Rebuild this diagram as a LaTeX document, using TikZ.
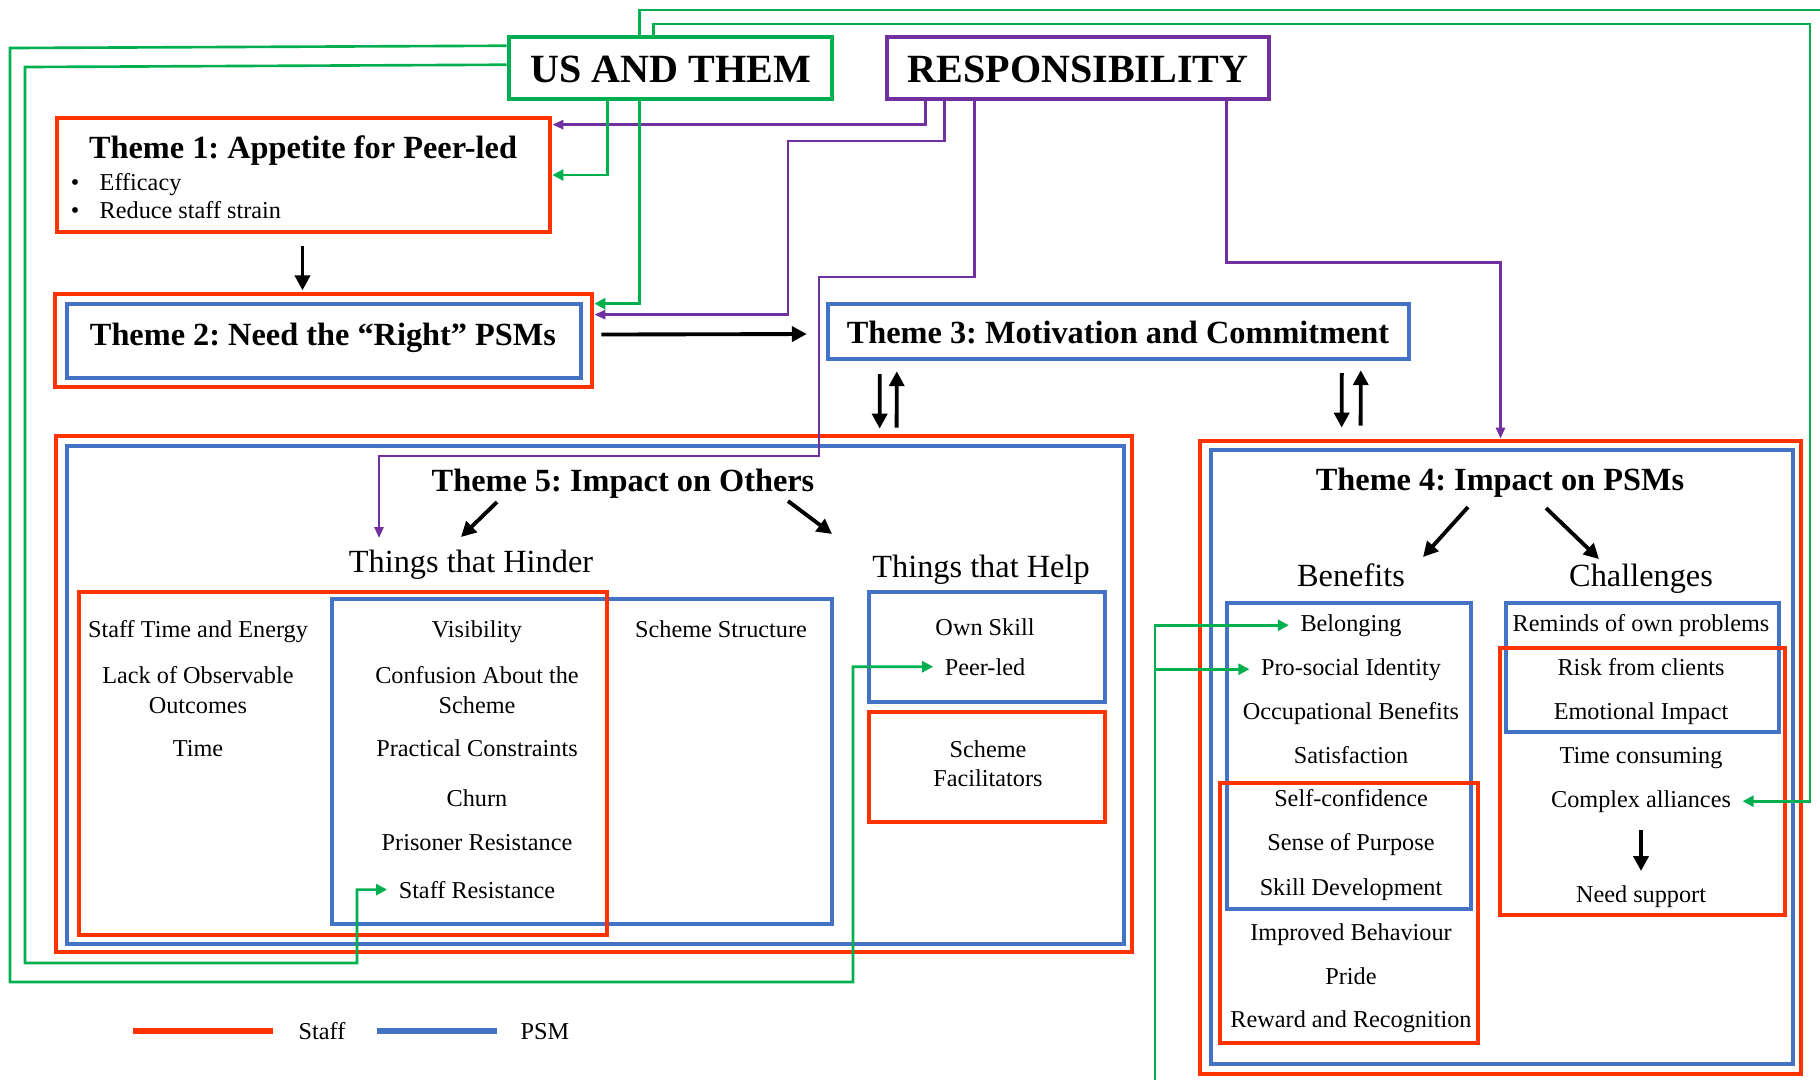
\documentclass[tikz,border=0pt]{standalone}
\usepackage{fontspec}
\setmainfont{Liberation Serif}
\usetikzlibrary{calc,arrows.meta}
\definecolor{cred}{HTML}{FF3300}
\definecolor{cblue}{HTML}{4472C4}
\definecolor{cgreen}{HTML}{00B050}
\definecolor{cpurple}{HTML}{7030A0}
\frenchspacing
\newcommand\mkbox[6]{\node[#2,minimum width={(#5-(#3))*0.1mm},minimum height={(#6-(#4))*0.1mm}] (#1) at ({(#3+#5)/2},{(#4+#6)/2}) {};}
\begin{document}
\begin{tikzpicture}[x=0.1mm,y=-0.1mm,
 rbox/.style={draw=cred,line width=1.35pt,inner sep=0pt},
 bbox/.style={draw=cblue,line width=1.25pt,inner sep=0pt},
 gbox/.style={draw=cgreen,line width=1.3pt,inner sep=0pt},
 pbox/.style={draw=cpurple,line width=1.3pt,inner sep=0pt},
 hd/.style={font=\fontsize{11.4}{13}\selectfont\bfseries,anchor=base,inner sep=0pt},
 ttl/.style={font=\fontsize{9.2}{11}\selectfont\bfseries,anchor=base,inner sep=0pt},
 sub/.style={font=\fontsize{9.2}{11}\selectfont,anchor=base,inner sep=0pt},
 itm/.style={font=\fontsize{6.9}{8.3}\selectfont,anchor=base,inner xsep=1.1mm,inner ysep=0pt},
 itm2/.style={font=\fontsize{6.9}{8.3}\selectfont,anchor=center,inner sep=0pt,align=center},
 gline/.style={draw=cgreen,line width=0.75pt},
 garr/.style={gline,-{Triangle[length=1.1mm,width=1.1mm]}},
 pline/.style={draw=cpurple,line width=0.75pt},
 parr/.style={pline,-{Triangle[length=1.1mm,width=0.9mm]}},
 barr/.style={draw=black,line width=1.1pt,-{Triangle[length=1.5mm,width=1.5mm]}},
 legline/.style={line width=1.5pt}
]
\useasboundingbox (0,0) rectangle (1820,1080);
% ---- boxes ----
\mkbox{ut}{gbox}{509}{37}{832}{99}
\mkbox{resp}{pbox}{887}{37}{1269}{99}
\mkbox{t1}{rbox}{57}{118}{550}{232}
\mkbox{t2o}{rbox}{55}{294}{592}{387}
\mkbox{t2}{bbox}{67}{304}{581}{378}
\mkbox{t3}{bbox}{828}{304}{1409}{359}
\mkbox{t5o}{rbox}{56}{436}{1132}{952}
\mkbox{t5}{bbox}{67}{446}{1124}{944}
\mkbox{hb}{bbox}{332}{599}{832}{924}
\mkbox{hr}{rbox}{79}{592}{607}{935}
\mkbox{lpb}{bbox}{869}{592}{1105}{702}
\mkbox{lpr}{rbox}{869}{712}{1105}{822}
\mkbox{t4o}{rbox}{1200}{441}{1801}{1074}
\mkbox{t4}{bbox}{1211}{450}{1793}{1064}
\mkbox{bb}{bbox}{1227}{603}{1471}{909}
\mkbox{br}{rbox}{1220}{783}{1478}{1043}
\mkbox{cb}{bbox}{1506}{603}{1779}{732}
\mkbox{cr}{rbox}{1500}{648}{1785}{915}
% ---- texts ----
\node[hd] (utt) at (671,82) {US AND THEM};
\node[hd] (rest) at (1078,82) {RESPONSIBILITY};
\node[ttl] (t1t) at (303,158) {Theme 1: Appetite for Peer-led};
\node[itm,inner xsep=0pt] (bu1) at (75,190) {•};
\node[itm,inner xsep=0pt] (bu2) at (75,218) {•};
\node[itm,anchor=base west,inner xsep=0pt] (eff) at (99,190) {Efficacy};
\node[itm,anchor=base west,inner xsep=0pt] (rss) at (99,218) {Reduce staff strain};
\node[ttl] (t2t) at (323,345) {Theme 2: Need the “Right” PSMs};
\node[ttl] (t3t) at (1118,343) {Theme 3: Motivation and Commitment};
\node[ttl] (t5t) at (623,491) {Theme 5: Impact on Others};
\node[sub] (hin) at (471,572) {Things that Hinder};
\node[sub] (hel) at (981,577) {Things that Help};
\node[itm] (ste) at (198,637) {Staff Time and Energy};
\node[itm2] (loo) at (198,690) {Lack of Observable\\Outcomes};
\node[itm] (tim) at (198,756) {Time};
\node[itm] (vis) at (477,637) {Visibility};
\node[itm2] (cas) at (477,690) {Confusion About the\\Scheme};
\node[itm] (prc) at (477,756) {Practical Constraints};
\node[itm] (chu) at (477,806) {Churn};
\node[itm] (prr) at (477,850) {Prisoner Resistance};
\node[itm] (sr) at (477,898) {Staff Resistance};
\node[itm] (sst) at (721,637) {Scheme Structure};
\node[itm] (osk) at (985,635) {Own Skill};
\node[itm] (pl) at (985,675) {Peer-led};
\node[itm2] (sf) at (988,764) {Scheme\\Facilitators};
\node[ttl] (t4t) at (1500,490) {Theme 4: Impact on PSMs};
\node[sub] (ben) at (1351,586) {Benefits};
\node[sub] (cha) at (1641,586) {Challenges};
\node[itm] (bel) at (1351,631) {Belonging};
\node[itm] (pro) at (1351,675) {Pro-social Identity};
\node[itm] (occ) at (1351,719) {Occupational Benefits};
\node[itm] (sat) at (1351,763) {Satisfaction};
\node[itm] (scf) at (1351,806) {Self-confidence};
\node[itm] (sop) at (1351,850) {Sense of Purpose};
\node[itm] (skd) at (1351,895) {Skill Development};
\node[itm] (imb) at (1351,940) {Improved Behaviour};
\node[itm] (pri) at (1351,984) {Pride};
\node[itm,inner xsep=0pt] (rar) at (1351,1027) {Reward and Recognition};
\node[itm,inner xsep=0pt] (rop) at (1641,631) {Reminds of own problems};
\node[itm] (rfc) at (1641,675) {Risk from clients};
\node[itm] (emi) at (1641,719) {Emotional Impact};
\node[itm] (tco) at (1641,763) {Time consuming};
\node[itm] (ca) at (1641,807) {Complex alliances};
\node[itm] (ns) at (1641,902) {Need support};
% ---- legend ----
\coordinate (l1a) at (133,1031); \coordinate (l1b) at (273,1031);
\coordinate (l2a) at (377,1031); \coordinate (l2b) at (497,1031);
\draw[legline,draw=cred] (l1a) -- (l1b);
\draw[legline,draw=cblue] (l2a) -- (l2b);
\node[itm,inner xsep=0pt] (lgs) at (322,1039) {Staff};
\node[itm,inner xsep=0pt] (lgp) at (545,1039) {PSM};
% ---- black arrows ----
\draw[barr] ($(t1.south)+(-1,12)$) -- ($(t1.south)+(-1,56)$);
\draw[barr] ($(t2o.east)+(7,-6)$) -- ($(t3.west)+(-19,2.5)$);
\draw[barr] ($(t3.south west)+(54,13)$) -- ($(t5o.north west)+(826,-5)$);
\draw[barr] ($(t5o.north west)+(843,-6)$) -- ($(t3.south west)+(71,10)$);
\draw[barr] ($(t3.south west)+(516,12)$) -- ($(t4o.north west)+(144,-11)$);
\draw[barr] ($(t4o.north west)+(163,-13)$) -- ($(t3.south west)+(535,9)$);
\draw[barr] ($(t5t.base)+(-126,11)$) -- ($(hin.base)+(-10,-35)$);
\draw[barr] ($(t5t.base)+(165,10)$) -- ($(hel.base)+(-149,-43)$);
\draw[barr] ($(t4t.base)+(-32,17)$) -- ($(ben.base)+(72,-29)$);
\draw[barr] ($(t4t.base)+(46,18)$) -- ($(cha.base)+(-42,-27)$);
\draw[barr] ($(ca.base)+(0,23)$) -- ($(ns.base)+(0,-31)$);
% ---- purple connectors ----
\coordinate (pend) at (379,538);
\draw[parr] ($(resp.south west)+(41,0)$) |- ($(t1.north east)+(0,9)$);
\draw[parr] ($(resp.south west)+(60,0)$) |- (788,141) |- ($(t2o.north east)+(0,23)$);
\draw[parr] ($(resp.south west)+(90,0)$) |- (819,277) |- (379,456) -- (pend);
\draw[parr] ($(resp.south west)+(342,0)$) |- ($(t4o.north)+(0,-176)$) -- (t4o.north);
% ---- green connectors ----
\coordinate (gtop) at (1820,10);
\coordinate (gbot) at (1155,1080);
\draw[garr] ($(ut.north west)+(0,11)$) -- (10,48) -- (10,982) -- (853,982) |- (pl.west);
\draw[garr] ($(ut.north west)+(0,30)$) -- (25,67) -- (25,963) -- (357,963) |- (sr.west);
\draw[gline] ($(ut.north west)+(133,0)$) |- (gtop);
\draw[garr] ($(ut.north west)+(147,0)$) |- (1810,24) |- (ca.east);
\draw[garr] ($(ut.south west)+(101,0)$) |- (t1.east);
\draw[garr] ($(ut.south west)+(133,0)$) |- ($(t2o.north east)+(0,12)$);
\draw[garr] (gbot) |- (bel.west);
\draw[garr] (gbot) |- (pro.west);
\end{tikzpicture}
\end{document}
